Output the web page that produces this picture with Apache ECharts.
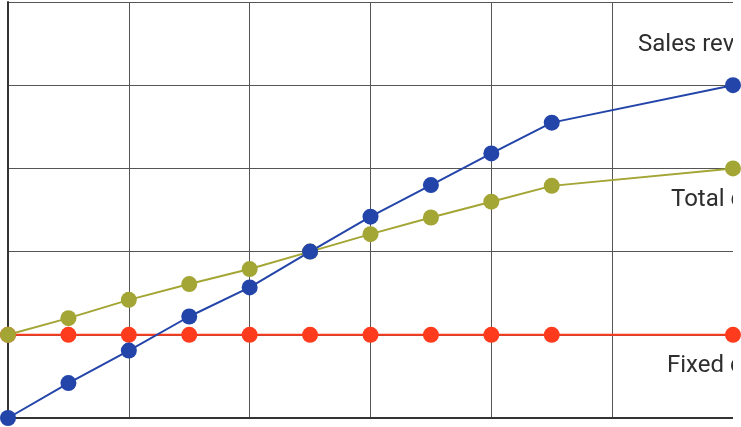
<!DOCTYPE html>
<html>
<head>
<meta charset="utf-8">
<script src="https://cdn.jsdelivr.net/npm/echarts@6/dist/echarts.min.js"></script>
<style>
html,body{margin:0;padding:0;background:#fff;}
#chart{width:741px;height:427px;}
</style>
</head>
<body>
<div id="chart"></div>
<script>
const units = [0, 1, 2, 3, 4, 5, 6, 7, 8, 9, 12];
const salesRevenue = [0, 4.2, 8.1, 12.2, 15.7, 20, 24.2, 28, 31.8, 35.5, 40];
const totalCost = [10, 12, 14.2, 16.1, 17.9, 20, 22.1, 24.1, 26, 27.9, 30];
const fixedCost = [10, 10, 10, 10, 10, 10, 10, 10, 10, 10, 10];
const seriesNames = ['Sales revenue', 'Total cost', 'Fixed cost'];

const pair = (xs, ys) => xs.map((x, i) => [x, ys[i]]);
const chart = echarts.init(document.getElementById('chart'), null, {renderer: 'canvas'});

function lineSeries(name, vals, color) {
  return {
    name: name,
    type: 'line',
    data: pair(units, vals),
    symbol: 'circle',
    symbolSize: 16,
    showAllSymbol: true,
    lineStyle: {color: color, width: 2},
    itemStyle: {color: color},
    z: 5
  };
}

function labelOf(name, vals, offset) {
  const last = units.length - 1;
  return {
    value: [units[last], vals[last]],
    label: {
      show: true,
      formatter: name,
      position: 'inside',
      align: 'left',
      verticalAlign: 'middle',
      offset: offset,
      color: '#2e2e2e',
      opacity: 1,
      fontSize: 24,
      fontFamily: 'Roboto'
    }
  };
}

chart.setOption({
  animation: false,
  backgroundColor: '#fff',
  grid: {left: 8, right: 8, top: 2, bottom: 9, containLabel: false},
  xAxis: {
    type: 'value', min: 0, max: 12, interval: 2, z: 2,
    axisLine: {show: true, onZero: false, lineStyle: {color: '#333', width: 2}},
    axisTick: {show: false},
    axisLabel: {show: false},
    splitLine: {show: true, lineStyle: {color: '#555', width: 1}}
  },
  yAxis: {
    type: 'value', min: 0, max: 50, interval: 10, z: 2,
    axisLine: {show: true, onZero: false, lineStyle: {color: '#333', width: 2}},
    axisTick: {show: false},
    axisLabel: {show: false},
    splitLine: {show: true, lineStyle: {color: '#555', width: 1}}
  },
  graphic: [{
    type: 'rect', right: 0, top: 0, z: 3,
    shape: {width: 8, height: 427},
    style: {fill: '#fff'}
  }],
  series: [
    {
      type: 'scatter', symbolSize: 0, z: 1, silent: true,
      itemStyle: {opacity: 1},
      data: [
        labelOf(seriesNames[0], salesRevenue, [-95, -40]),
        labelOf(seriesNames[1], totalCost, [-62, 32]),
        labelOf(seriesNames[2], fixedCost, [-66, 31])
      ]
    },
    lineSeries(seriesNames[2], fixedCost, '#ff3b1d'),
    lineSeries(seriesNames[1], totalCost, '#a3a534'),
    lineSeries(seriesNames[0], salesRevenue, '#2345a9')
  ]
});
</script>
</body>
</html>
